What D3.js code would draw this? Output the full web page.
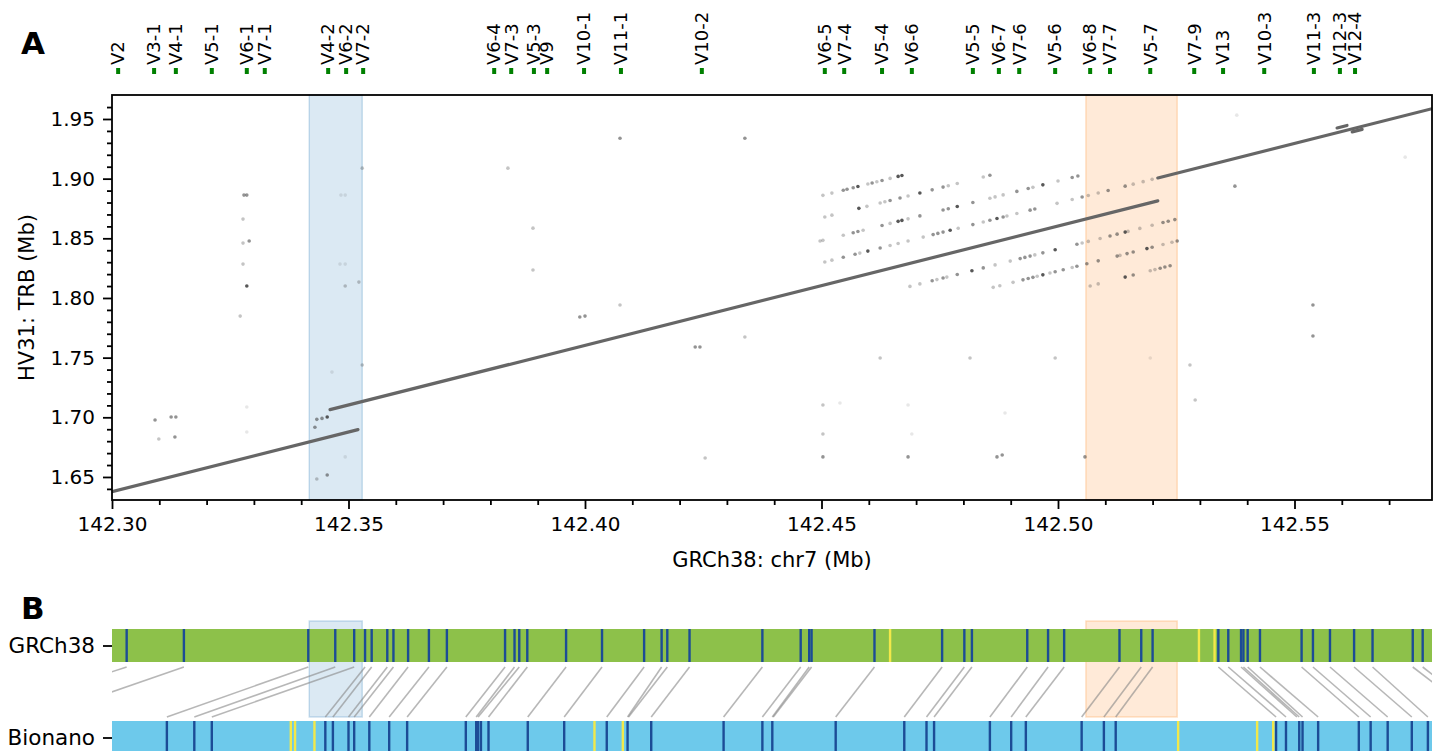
<!DOCTYPE html>
<html><head><meta charset="utf-8">
<script src="https://cdn.jsdelivr.net/npm/d3@7"></script>
<style>
body{margin:0;background:#fff}
text{font-family:"DejaVu Sans",sans-serif;fill:#000}
</style>
</head><body>
<svg id="chart" width="1434" height="751"></svg>
<script>
// ---------------- DATA ----------------
const geneNames = ["V2","V3-1","V4-1","V5-1","V6-1","V7-1","V4-2","V6-2","V7-2","V6-4","V7-3","V5-3","V9","V10-1","V11-1","V10-2","V6-5","V7-4","V5-4","V6-6","V5-5","V6-7","V7-6","V5-6","V6-8","V7-7","V5-7","V7-9","V13","V10-3","V11-3","V12-3","V12-4"];
const genePos = [142.3013,142.3089,142.3135,142.3211,142.3285,142.3323,142.3457,142.3495,142.3531,142.3808,142.3844,142.3892,142.3920,142.3998,142.4076,142.4247,142.4507,142.4548,142.4628,142.4691,142.4820,142.4875,142.4918,142.4994,142.5068,142.5110,142.5195,142.5288,142.5349,142.5436,142.5541,142.5596,142.5628];

const xTicks = [142.30,142.35,142.40,142.45,142.50,142.55];
const xMinor = [142.31,142.32,142.33,142.34,142.36,142.37,142.38,142.39,142.41,142.42,142.43,142.44,142.46,142.47,142.48,142.49,142.51,142.52,142.53,142.54,142.56,142.57];
const yTicks = [1.65,1.70,1.75,1.80,1.85,1.90,1.95];
const yMinor = [1.64,1.66,1.67,1.68,1.69,1.71,1.72,1.73,1.74,1.76,1.77,1.78,1.79,1.81,1.82,1.83,1.84,1.86,1.87,1.88,1.89,1.91,1.92,1.93,1.94,1.96];

// highlighted regions (chr7 Mb)
const bandBlue = [142.3417, 142.3529];
const bandOrange = [142.5059, 142.5252];

// long alignments: [x1, y1, x2, y2]
const alignments = [
  [142.3000,1.6377,142.3520,1.6897],
  [142.3461,1.7064,142.5211,1.8814],
  [142.5211,1.9006,142.57907,1.9586],
  [142.5590,1.9425,142.5611,1.9446],
  [142.5622,1.9392,142.5643,1.9413]
];

// dot-plot hits: [x, y, hits]
const repeatRow1 = [[142.4503,1.8860,2],[142.4522,1.8879,2],[142.4546,1.8903,3],[142.4554,1.8911,3],[142.4567,1.8924,3],[142.4577,1.8934,4],[142.4598,1.8955,2],[142.4607,1.8964,3],[142.4617,1.8974,2],[142.4628,1.8985,3],[142.4645,1.9002,2],[142.4662,1.9019,4],[142.4670,1.9027,4]];
const repeatRow2 = [[142.4507,1.8679,2],[142.4522,1.8694,2],[142.4579,1.8751,4],[142.4596,1.8768,2],[142.4624,1.8796,2],[142.4634,1.8806,2],[142.4645,1.8817,3],[142.4666,1.8838,3],[142.4683,1.8855,2],[142.4708,1.8880,4],[142.4734,1.8906,3],[142.4757,1.8929,3],[142.4768,1.8940,2],[142.4787,1.8959,2],[142.4842,1.9014,2],[142.4856,1.9028,3]];
const repeatRow3 = [[142.4497,1.8477,2],[142.4503,1.8483,2],[142.4546,1.8526,2],[142.4567,1.8547,3],[142.4577,1.8557,3],[142.4588,1.8568,2],[142.4628,1.8608,3],[142.4645,1.8625,2],[142.4662,1.8642,4],[142.4670,1.8650,4],[142.4683,1.8663,2],[142.4708,1.8688,3],[142.4757,1.8737,3],[142.4768,1.8748,3],[142.4787,1.8767,4],[142.4820,1.8800,3],[142.4856,1.8836,2],[142.4867,1.8847,2],[142.4884,1.8864,2],[142.4913,1.8893,3],[142.4937,1.8917,3],[142.4947,1.8927,2],[142.4968,1.8948,4],[142.5000,1.8980,2],[142.5030,1.9010,3],[142.5042,1.9022,3]];
const repeatRow4 = [[142.4507,1.8302,2],[142.4522,1.8317,2],[142.4546,1.8341,3],[142.4571,1.8366,3],[142.4581,1.8376,2],[142.4598,1.8393,4],[142.4624,1.8419,3],[142.4645,1.8440,2],[142.4662,1.8457,2],[142.4683,1.8478,2],[142.4715,1.8510,2],[142.4736,1.8531,3],[142.4746,1.8541,3],[142.4757,1.8552,3],[142.4772,1.8567,4],[142.4789,1.8584,2],[142.4820,1.8615,3],[142.4842,1.8637,2],[142.4856,1.8651,3],[142.4871,1.8666,4],[142.4884,1.8679,3],[142.4892,1.8687,2],[142.4913,1.8708,2],[142.4941,1.8736,3],[142.4951,1.8746,3],[142.4998,1.8793,2],[142.5030,1.8825,2],[142.5051,1.8846,3],[142.5064,1.8859,2],[142.5085,1.8880,2],[142.5106,1.8901,3],[142.5142,1.8937,3],[142.5159,1.8954,2],[142.5180,1.8975,2],[142.5199,1.8994,2]];
const repeatRow5 = [[142.4687,1.8097,2],[142.4708,1.8118,2],[142.4734,1.8144,3],[142.4744,1.8154,2],[142.4757,1.8167,3],[142.4765,1.8175,2],[142.4787,1.8197,3],[142.4818,1.8228,4],[142.4842,1.8252,3],[142.4867,1.8277,2],[142.4899,1.8309,2],[142.4920,1.8330,3],[142.4930,1.8340,3],[142.4941,1.8351,3],[142.4951,1.8361,2],[142.4968,1.8378,3],[142.4994,1.8404,4],[142.5040,1.8450,3],[142.5051,1.8461,2],[142.5064,1.8474,2],[142.5089,1.8499,2],[142.5110,1.8520,3],[142.5125,1.8535,3],[142.5142,1.8552,4],[142.5148,1.8558,2],[142.5173,1.8583,2],[142.5199,1.8609,2],[142.5222,1.8632,3],[142.5233,1.8643,3],[142.5247,1.8657,3]];
const repeatRow6 = [[142.4863,1.8089,2],[142.4877,1.8103,2],[142.4905,1.8131,2],[142.4926,1.8152,3],[142.4937,1.8163,3],[142.4947,1.8173,3],[142.4956,1.8182,2],[142.4968,1.8194,4],[142.4983,1.8209,2],[142.4994,1.8220,3],[142.5011,1.8237,3],[142.5030,1.8256,2],[142.5040,1.8266,3],[142.5061,1.8287,3],[142.5085,1.8311,3],[142.5125,1.8351,3],[142.5131,1.8357,2],[142.5146,1.8372,3],[142.5159,1.8385,3],[142.5188,1.8414,4],[142.5199,1.8425,3],[142.5222,1.8448,2],[142.5241,1.8467,2],[142.5252,1.8478,3]];
const repeatRow7 = [[142.5068,1.8101,2],[142.5085,1.8118,2],[142.5142,1.8175,4],[142.5159,1.8192,3],[142.5195,1.8228,2],[142.5205,1.8238,2],[142.5216,1.8249,3],[142.5226,1.8259,3],[142.5237,1.8270,3]];
const scatterHits = [[142.3429,1.6917,3],[142.3433,1.6983,3],[142.3444,1.6991,3],[142.3455,1.7003,4],
  [142.3279,1.8862,3],[142.3285,1.8862,3],[142.3277,1.8661,2],[142.3277,1.8460,2],[142.3290,1.8477,3],[142.3277,1.8284,2],[142.3285,1.8100,4],[142.3271,1.7848,2],
  [142.3091,1.6977,3],[142.3125,1.7003,3],[142.3135,1.7003,3],[142.3099,1.6818,2],[142.3133,1.6835,3],[142.3285,1.7086,1],[142.3285,1.6877,1],
  [142.3484,1.8862,1],[142.3493,1.8862,1],[142.3482,1.8284,1],[142.3493,1.8284,1],[142.3493,1.8100,2],[142.3522,1.8133,2],[142.3529,1.7438,2],[142.3465,1.7379,1],[142.3493,1.6668,1],[142.3433,1.6483,2],[142.3455,1.6517,3],[142.3529,1.9088,2],
  [142.4074,1.9339,3],[142.4338,1.9339,3],[142.3837,1.9088,2],[142.3890,1.8585,2],[142.3890,1.8234,2],[142.3989,1.7840,3],[142.4000,1.7848,3],[142.4074,1.7941,2],[142.4233,1.7589,3],[142.4243,1.7589,3],[142.4338,1.7673,2],[142.4254,1.6659,2],
  [142.4503,1.6668,3],[142.4503,1.6860,2],[142.4503,1.7103,2],[142.4539,1.7120,1],[142.4624,1.7497,2],[142.4683,1.6668,3],[142.4683,1.7103,1],[142.4691,1.6860,1],[142.4814,1.7497,2],[142.4871,1.6668,3],[142.4882,1.6684,3],[142.4888,1.7036,1],[142.4994,1.7497,2],[142.5057,1.6668,3],[142.5195,1.7497,1],[142.5279,1.7438,2],[142.5290,1.7145,2],[142.5374,1.8937,3],[142.5378,1.9532,1],[142.5539,1.7941,3],[142.5539,1.7681,3],[142.5734,1.9180,1]];

// Panel B: optical map labels (Mb, drawn on chr7 axis)
const refLabels = [142.3031,142.3152,142.3415,142.3472,142.3512,142.3535,142.3549,142.3582,142.3595,142.3626,142.3670,142.3708,142.3831,142.3851,142.3861,142.3878,142.3960,142.4036,142.4125,142.4162,142.4174,142.4221,142.4375,142.4456,142.4474,142.4479,142.4612,142.4755,142.4802,142.4818,142.4935,142.4979,142.5013,142.5130,142.5176,142.5200,142.5339,142.5360,142.5387,142.5392,142.5401,142.5427,142.5515,142.5539,142.5575,142.5626,142.5665,142.5750,142.5771];
const refUnaligned = [142.4645,142.5298,142.5331];
const bioLabels = [142.3116,142.3174,142.3211,142.3451,142.3467,142.3500,142.3512,142.3544,142.3586,142.3624,142.3748,142.3770,142.3774,142.3780,142.3796,142.3879,142.3956,142.4046,142.4090,142.4140,142.4293,142.4375,142.4396,142.4530,142.4675,142.4722,142.4738,142.4856,142.4901,142.4932,142.5050,142.5097,142.5122,142.5461,142.5482,142.5510,142.5517,142.5550,142.5636,142.5661,142.5697,142.5748,142.5782];
const bioUnaligned = [142.3378,142.3387,142.3428,142.4020,142.4080,142.5254,142.5421,142.5455];
// [ref label, matched Bionano label]
const matches = [[142.3031,142.2705],[142.3152,142.2846],[142.3415,142.3116],[142.3472,142.3174],[142.3512,142.3211],[142.3535,142.3451],[142.3549,142.3467],[142.3582,142.3500],[142.3595,142.3512],[142.3626,142.3544],[142.3670,142.3586],[142.3708,142.3624],[142.3831,142.3748],[142.3851,142.3770],[142.3861,142.3774],[142.3878,142.3796],[142.3960,142.3879],[142.4036,142.3956],[142.4125,142.4046],[142.4162,142.4090],[142.4174,142.4092],[142.4221,142.4140],[142.4375,142.4293],[142.4456,142.4375],[142.4474,142.4396],[142.4479,142.4398],[142.4612,142.4530],[142.4755,142.4675],[142.4802,142.4722],[142.4818,142.4738],[142.4935,142.4856],[142.4979,142.4901],[142.5013,142.4932],[142.5130,142.5050],[142.5176,142.5097],[142.5200,142.5122],[142.5339,142.5461],[142.5360,142.5482],[142.5387,142.5505],[142.5392,142.5510],[142.5401,142.5517],[142.5427,142.5550],[142.5515,142.5636],[142.5539,142.5661],[142.5575,142.5697],[142.5626,142.5748],[142.5665,142.5782],[142.5750,142.5888],[142.5771,142.5907]];
const mapNames = ["GRCh38","Bionano"];

// ---------------- DRAW ----------------
const W = 1434, H = 751;
const L = 112, R = 1432, T = 95, B = 500;
const svg = d3.select("#chart");
const x = d3.scaleLinear().domain([142.3, 142.57907]).range([L, R]);
const y = d3.scaleLinear().domain([1.6307, 1.9701]).range([B, T]);
const hitAlpha = d3.scaleOrdinal().domain([1,2,3,4]).range([0.12,0.3,0.55,0.85]);

svg.append("defs").append("clipPath").attr("id","plotclip")
  .append("rect").attr("x",L).attr("y",T).attr("width",R-L).attr("height",B-T);
svg.select("defs").append("clipPath").attr("id","bclip")
  .append("rect").attr("x",L).attr("y",600).attr("width",R-L).attr("height",151);

// panel letters
svg.append("text").attr("x",21).attr("y",54).attr("font-size",31).attr("font-weight","bold").text("A");
svg.append("text").attr("x",21).attr("y",619).attr("font-size",31).attr("font-weight","bold").text("B");

// gene labels on top
const gl = svg.append("g");
geneNames.forEach((n,i)=>{
  const gx = x(genePos[i]);
  gl.append("rect").attr("x",gx-2).attr("y",68).attr("width",4).attr("height",6).attr("fill","#008000");
  gl.append("text").attr("transform",`translate(${gx},65) rotate(-90)`).attr("dy","0.35em")
    .attr("font-size",18).attr("text-anchor","start").text(n);
});

// Panel A
const pa = svg.append("g");
const bandColors = [[bandBlue,"31,119,180"],[bandOrange,"255,127,14"]];
bandColors.forEach(([b,c])=>{
  pa.append("rect").attr("x",x(b[0])).attr("y",T).attr("width",x(b[1])-x(b[0])).attr("height",B-T)
    .attr("fill",`rgba(${c},0.16)`).attr("stroke",`rgba(${c},0.22)`).attr("stroke-width",1.5);
});
const plot = pa.append("g").attr("clip-path","url(#plotclip)");
const allDots = [].concat(repeatRow1,repeatRow2,repeatRow3,repeatRow4,repeatRow5,repeatRow6,repeatRow7,scatterHits);
plot.selectAll("circle.hit").data(allDots).join("circle").attr("class","hit")
  .attr("cx",d=>x(d[0])).attr("cy",d=>y(d[1])).attr("r",1.8)
  .attr("fill","#3a3a3a").attr("fill-opacity",d=>hitAlpha(d[2]));
plot.selectAll("line.aln").data(alignments).join("line").attr("class","aln")
  .attr("x1",d=>x(d[0])).attr("y1",d=>y(d[1])).attr("x2",d=>x(d[2])).attr("y2",d=>y(d[3]))
  .attr("stroke","#666").attr("stroke-width",3.2).attr("stroke-linecap","round");

// axes
const xAx = pa.append("g").attr("transform",`translate(0,${B})`)
  .call(d3.axisBottom(x).tickValues(xTicks).tickFormat(d3.format(".2f")).tickSize(9).tickPadding(8));
const xAxMinor = pa.append("g").attr("transform",`translate(0,${B})`)
  .call(d3.axisBottom(x).tickValues(xMinor).tickFormat("").tickSize(5));
const yAx = pa.append("g").attr("transform",`translate(${L},0)`)
  .call(d3.axisLeft(y).tickValues(yTicks).tickFormat(d3.format(".2f")).tickSize(9).tickPadding(8));
const yAxMinor = pa.append("g").attr("transform",`translate(${L},0)`)
  .call(d3.axisLeft(y).tickValues(yMinor).tickFormat("").tickSize(5));
[xAx,xAxMinor,yAx,yAxMinor].forEach(g=>{
  g.select(".domain").remove();
  g.selectAll(".tick line").attr("stroke","#000").attr("stroke-width",1.8);
  g.selectAll(".tick text").attr("font-size",20).attr("font-family","DejaVu Sans").attr("fill","#000");
});
pa.append("rect").attr("x",L).attr("y",T).attr("width",R-L).attr("height",B-T)
  .attr("fill","none").attr("stroke","#000").attr("stroke-width",1.8);

svg.append("text").attr("x",(L+R)/2).attr("y",567).attr("text-anchor","middle").attr("font-size",21)
  .text("GRCh38: chr7 (Mb)");
svg.append("text").attr("transform",`translate(27,${(T+B)/2}) rotate(-90)`).attr("dy","0.35em")
  .attr("text-anchor","middle").attr("font-size",21).text("HV31: TRB (Mb)");

// Panel B
const pb = svg.append("g");
const refY0 = 629, refY1 = 662, bioY0 = 721, bioY1 = 754;
bandColors.forEach(([b,c])=>{
  pb.append("rect").attr("x",x(b[0])).attr("y",621).attr("width",x(b[1])-x(b[0])).attr("height",96)
    .attr("fill",`rgba(${c},0.16)`).attr("stroke",`rgba(${c},0.22)`).attr("stroke-width",1.5);
});
pb.append("rect").attr("x",L).attr("y",refY0).attr("width",R-L).attr("height",refY1-refY0).attr("fill","#8DC14A");
pb.append("rect").attr("x",L).attr("y",bioY0).attr("width",R-L).attr("height",bioY1-bioY0).attr("fill","#6DC9EB");
const pbc = pb.append("g").attr("clip-path","url(#bclip)");
pbc.selectAll("line.conn").data(matches).join("line").attr("class","conn")
  .attr("x1",d=>x(d[0])).attr("y1",667).attr("x2",d=>x(d[1])).attr("y2",717)
  .attr("stroke","rgba(135,135,135,0.6)").attr("stroke-width",1.6);
function marks(arr, y0, y1, col){
  pbc.selectAll(null).data(arr).join("line")
    .attr("x1",d=>x(d)).attr("x2",d=>x(d)).attr("y1",y0).attr("y2",y1)
    .attr("stroke",col).attr("stroke-width",2.4);
}
marks(refLabels, refY0, refY1, "#1C4C96");
marks(refUnaligned, refY0, refY1, "#F2E84A");
marks(bioLabels, bioY0, bioY1, "#1C4C96");
marks(bioUnaligned, bioY0, bioY1, "#F2E84A");
const yb = d3.scalePoint().domain(mapNames).range([(refY0+refY1)/2,(bioY0+bioY1)/2]);
const bAx = pb.append("g").attr("transform",`translate(${L},0)`)
  .call(d3.axisLeft(yb).tickSize(9).tickPadding(8));
bAx.select(".domain").remove();
bAx.selectAll(".tick line").attr("stroke","#000").attr("stroke-width",1.8);
bAx.selectAll(".tick text").attr("font-size",21.5).attr("font-family","DejaVu Sans").attr("fill","#000");
</script>
</body></html>
